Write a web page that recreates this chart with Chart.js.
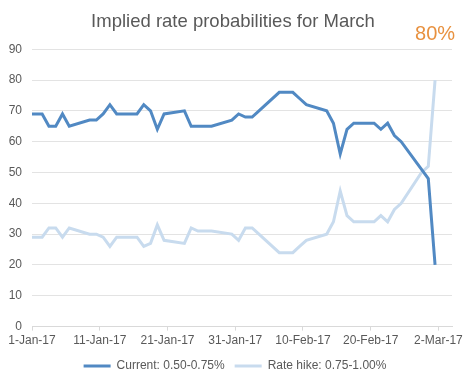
<!DOCTYPE html>
<html>
<head>
<meta charset="utf-8">
<title>Implied rate probabilities for March</title>
<script src="https://cdn.jsdelivr.net/npm/chart.js@4/dist/chart.umd.min.js"></script>
<style>
    html, body { margin: 0; padding: 0; background: #fff; }
    #box { width: 471px; height: 386px; }
</style>
</head>
<body>
<div id="box"><canvas id="myChart" width="471" height="386"></canvas></div>
<script>
/** 日期（交易日） */
var dates = ['30-Dec-16',
    '2-Jan-17', '3-Jan-17', '4-Jan-17', '5-Jan-17', '6-Jan-17',
    '9-Jan-17', '10-Jan-17', '11-Jan-17', '12-Jan-17', '13-Jan-17',
    '16-Jan-17', '17-Jan-17', '18-Jan-17', '19-Jan-17', '20-Jan-17',
    '23-Jan-17', '24-Jan-17', '25-Jan-17', '26-Jan-17', '27-Jan-17',
    '30-Jan-17', '31-Jan-17', '1-Feb-17', '2-Feb-17', '3-Feb-17',
    '6-Feb-17', '7-Feb-17', '8-Feb-17', '9-Feb-17', '10-Feb-17',
    '13-Feb-17', '14-Feb-17', '15-Feb-17', '16-Feb-17', '17-Feb-17',
    '20-Feb-17', '21-Feb-17', '22-Feb-17', '23-Feb-17', '24-Feb-17',
    '27-Feb-17', '28-Feb-17', '1-Mar-17']
/** Current: 0.50-0.75% */
var currentData = [69,
    69, 65, 65, 69, 65,
    67, 67, 69, 72, 69,
    69, 72, 70, 64, 69,
    70, 65, 65, 65, 65,
    67, 69, 68, 68, 70,
    76, 76, 76, 74, 72,
    70, 66, 56, 64, 66,
    66, 64, 66, 62, 60,
    51, 48, 20]
/** Rate hike: 0.75-1.00% */
var hikeData = [29,
    29, 32, 32, 29, 32,
    30, 30, 29, 26, 29,
    29, 26, 27, 33, 28,
    27, 32, 31, 31, 31,
    30, 28, 32, 32, 30,
    24, 24, 24, 26, 28,
    30, 34, 44, 36, 34,
    34, 36, 34, 38, 40,
    50, 52, 80]
/** 横坐标刻度 */
var tickLabels = ['1-Jan-17', '11-Jan-17', '21-Jan-17', '31-Jan-17', '10-Feb-17', '20-Feb-17', '2-Mar-17']
var seriesNames = ['Current: 0.50-0.75%', 'Rate hike: 0.75-1.00%']
var titleText = 'Implied rate probabilities for March'
var calloutText = '80%'

var FONT = '"Liberation Sans", Arial, sans-serif'
var months = {Jan: 0, Feb: 1, Mar: 2, Dec: 11}

/** 把 "2-Jan-17" 变成距离 1-Jan-17 的天数（Excel 日期轴点在当天中间） */
function dayOf(s) {
    var p = s.split('-')
    var t = Date.UTC(2000 + Number(p[2]), months[p[1]], Number(p[0]))
    return (t - Date.UTC(2017, 0, 1)) / 86400000 + 0.5
}
function toPoints(values) {
    return values.map(function (v, i) {
        return {x: dayOf(dates[i]), y: v}
    })
}

/** 右上角 80% 标注 */
var calloutPlugin = {
    id: 'callout',
    afterLayout: function (chart) {
        // 图例、标题整体往右挪一点，和原图位置一致
        chart.legend.left += 9
        chart.legend.right += 9
        chart.legend.top -= 1
        chart.legend.bottom -= 1
        chart.titleBlock.left += 7
        chart.titleBlock.right += 7
    },
    afterDraw: function (chart) {
        var meta = chart.getDatasetMeta(1)
        var last = meta.data[meta.data.length - 1]
        var ctx = chart.ctx
        ctx.save()
        ctx.font = '20px ' + FONT
        ctx.fillStyle = '#e8913f'
        ctx.textAlign = 'center'
        ctx.textBaseline = 'middle'
        ctx.fillText(calloutText, last.x, chart.chartArea.top - 15)
        ctx.restore()
    }
}

var ctx = document.getElementById('myChart').getContext('2d')
var myChart = new Chart(ctx, {
    type: 'line',
    data: {
        datasets: [
            {
                label: seriesNames[0],
                data: toPoints(currentData),
                borderColor: '#5189c3',
                backgroundColor: '#5189c3',
                borderWidth: 3,
                pointRadius: 0,
                tension: 0
            },
            {
                label: seriesNames[1],
                data: toPoints(hikeData),
                borderColor: '#c8dbee',
                backgroundColor: '#c8dbee',
                borderWidth: 3,
                pointRadius: 0,
                tension: 0
            }
        ]
    },
    options: {
        responsive: false,
        animation: false,
        layout: {padding: {left: 0, right: 19, top: 0, bottom: 3}},
        plugins: {
            title: {
                display: true,
                text: titleText,
                color: '#595959',
                font: {family: FONT, size: 18.5, weight: 'normal'},
                padding: {top: 11, bottom: 16}
            },
            legend: {
                position: 'bottom',
                labels: {
                    color: '#595959',
                    font: {family: FONT, size: 12},
                    boxWidth: 27,
                    boxHeight: 3,
                    padding: 10,
                    generateLabels: function (chart) {
                        var items = Chart.defaults.plugins.legend.labels.generateLabels(chart)
                        items.forEach(function (it) { it.lineWidth = 0 })
                        return items
                    }
                }
            },
            tooltip: {enabled: false}
        },
        scales: {
            x: {
                type: 'linear',
                min: 0,
                max: 62,
                grid: {display: true, drawOnChartArea: false, drawTicks: true, tickLength: 4, color: '#d9d9d9'},
                border: {color: '#d9d9d9'},
                ticks: {
                    stepSize: 10,
                    includeBounds: false,
                    autoSkip: false,
                    maxRotation: 0,
                    padding: 3,
                    color: '#595959',
                    font: {family: FONT, size: 12},
                    callback: function (value) {
                        if (value % 10 !== 0) return ''
                        return tickLabels[value / 10]
                    }
                }
            },
            y: {
                min: 0,
                max: 90,
                grid: {color: '#e3e3e3', drawTicks: false},
                border: {display: false},
                ticks: {
                    stepSize: 10,
                    padding: 10,
                    color: '#595959',
                    font: {family: FONT, size: 12}
                },
                afterFit: function (scale) {
                    scale.width = 32
                }
            }
        }
    },
    plugins: [calloutPlugin]
})
</script>
</body>
</html>
